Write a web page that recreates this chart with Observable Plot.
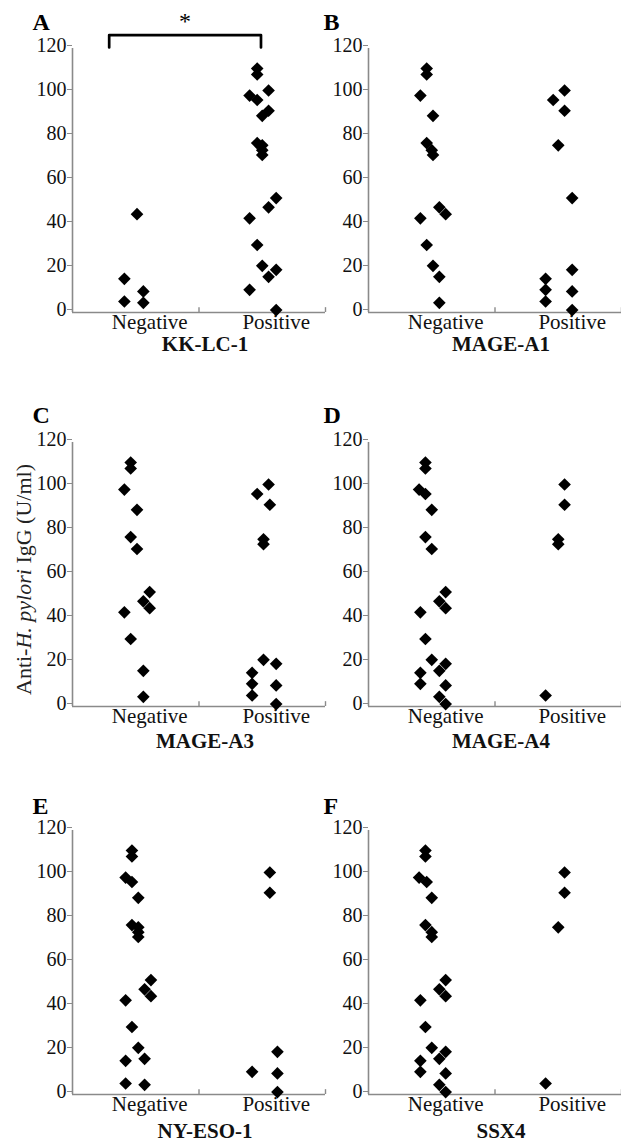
<!DOCTYPE html>
<html>
<head>
<meta charset="utf-8">
<script src="https://cdn.jsdelivr.net/npm/d3@7"></script>
<script src="https://cdn.jsdelivr.net/npm/@observablehq/plot@0.6"></script>
<style>
  html, body { margin: 0; padding: 0; background: #fff; }
  #fig { position: relative; width: 621px; height: 1141px; overflow: hidden; background: #fff;
         font-family: "Liberation Serif", "Times New Roman", serif; }
  #fig svg { position: absolute; overflow: visible; background: transparent; }
  #fig svg text { font-family: "Liberation Serif", "Times New Roman", serif; }
</style>
</head>
<body>
<div id="fig"></div>
<script>
// ---------- data ----------
const groups = ["Negative", "Positive"];
const antigens = ["KK-LC-1", "MAGE-A1", "MAGE-A3", "MAGE-A4", "NY-ESO-1", "SSX4"];
const panelLetters = ["A", "B", "C", "D", "E", "F"];
const yTicks = [0, 20, 40, 60, 80, 100, 120];
const yTitle = "Anti-H. pylori IgG (U/ml)";

// each point: [position on the group axis (Negative 0–1, Positive 1–2), anti-H. pylori IgG U/ml]
const kkLc1 = [
  [0.51,44.7],[0.41,15.3],[0.56,9.6],[0.41,5.0],[0.56,4.4],
  [1.46,110.9],[1.46,108.2],[1.55,100.9],[1.40,98.6],[1.46,96.6],[1.55,91.7],[1.50,89.4],
  [1.46,77.0],[1.50,76.0],[1.50,73.8],[1.50,71.6],[1.61,52.0],[1.55,47.8],[1.40,42.8],
  [1.46,30.7],[1.50,21.2],[1.61,19.4],[1.55,16.2],[1.40,10.3],[1.61,1.1]
];
const mageA1 = [
  [0.46,110.9],[0.46,108.2],[0.41,98.6],[0.51,89.4],[0.46,77.0],[0.50,73.8],[0.51,71.6],
  [0.56,47.8],[0.61,44.7],[0.41,42.8],[0.46,30.7],[0.51,21.2],[0.56,16.2],[0.56,4.4],
  [1.55,100.9],[1.46,96.6],[1.55,91.7],[1.50,76.0],[1.61,52.0],[1.61,19.4],[1.40,15.3],
  [1.40,10.3],[1.61,9.6],[1.40,5.0],[1.61,1.1]
];
const mageA3 = [
  [0.46,110.9],[0.46,108.2],[0.41,98.6],[0.51,89.4],[0.46,77.0],[0.51,71.6],[0.61,52.0],
  [0.56,47.8],[0.61,44.7],[0.41,42.8],[0.46,30.7],[0.56,16.2],[0.56,4.4],
  [1.55,100.9],[1.46,96.6],[1.56,91.7],[1.51,76.0],[1.51,73.8],[1.51,21.2],[1.61,19.4],
  [1.42,15.3],[1.42,10.3],[1.61,9.6],[1.42,5.0],[1.61,1.1]
];
const mageA4 = [
  [0.45,110.9],[0.45,108.2],[0.40,98.6],[0.45,96.6],[0.50,89.4],[0.45,77.0],[0.50,71.6],
  [0.61,52.0],[0.56,47.8],[0.61,44.7],[0.41,42.8],[0.45,30.7],[0.50,21.2],[0.61,19.4],
  [0.56,16.2],[0.41,15.3],[0.41,10.3],[0.61,9.6],[0.56,4.4],[0.61,1.1],
  [1.55,100.9],[1.55,91.7],[1.50,76.0],[1.50,73.8],[1.40,5.0]
];
const nyEso1 = [
  [0.47,110.9],[0.47,108.2],[0.42,98.6],[0.47,96.6],[0.52,89.4],[0.47,77.0],[0.52,76.0],
  [0.52,73.8],[0.52,71.6],[0.62,52.0],[0.57,47.8],[0.62,44.7],[0.42,42.8],[0.47,30.7],
  [0.52,21.2],[0.57,16.2],[0.42,15.3],[0.42,5.0],[0.57,4.4],
  [1.56,100.9],[1.56,91.7],[1.62,19.4],[1.42,10.3],[1.62,9.6],[1.62,1.1]
];
const ssx4 = [
  [0.45,110.9],[0.45,108.2],[0.40,98.6],[0.46,96.6],[0.50,89.4],[0.45,77.0],[0.50,73.8],
  [0.50,71.6],[0.61,52.0],[0.56,47.8],[0.61,44.7],[0.41,42.8],[0.45,30.7],[0.50,21.2],
  [0.61,19.4],[0.56,16.2],[0.41,15.3],[0.41,10.3],[0.61,9.6],[0.56,4.4],[0.61,1.1],
  [1.55,100.9],[1.55,91.7],[1.50,76.0],[1.40,5.0]
];
const panelData = [kkLc1, mageA1, mageA3, mageA4, nyEso1, ssx4];

// significance bracket in panel A (group-axis position, IgG value)
const sigBracket = [[0.29,120.5],[0.29,126.1],[1.49,126.1],[1.49,120.5]];
const sigLabel = "*";

// ---------- layout ----------
const fig = document.getElementById("fig");
const serif = "'Liberation Serif', 'Times New Roman', serif";
const axisGray = "#8a8a8a";
const ink = "#111";
const colAxisX = [72, 367.5];
const rowFrameTop = [47.7, 441.6, 829.8];
const rowTitleDy = [38.5, 41, 43];
const rowLetterDy = [-19, -20, -17];
const colLetterDx = [-40, -45];
const mL = 72, mR = 5, mT = 50, mB = 60, plotW = 253, plotH = 264;

antigens.forEach((name, i) => {
  const col = i % 2, row = Math.floor(i / 2);
  const marks = [
    Plot.ruleY([0], {stroke: axisGray, strokeWidth: 1.6}),
    Plot.ruleX([0], {stroke: axisGray, strokeWidth: 1.6}),
    Plot.ruleX([1, 2], {y1: 0, y2: 2.2, stroke: axisGray, strokeWidth: 1.4}),
    Plot.axisY({ticks: yTicks, tickSize: 5, tickPadding: 1, fontSize: 20, fontFamily: serif,
                stroke: axisGray, fill: ink, dy: -3}),
    Plot.axisX({ticks: groups.map((g, k) => k + 0.5), tickFormat: d => groups[Math.floor(d)],
                tickSize: 0, tickPadding: 2, fontSize: 21, fontFamily: serif, fill: ink, dx: 14}),
    Plot.dot(panelData[i], {x: d => d[0], y: d => d[1], symbol: "diamond2", r: 5.7,
                            fill: "#000", stroke: "none"}),
    Plot.text([name], {frameAnchor: "bottom", lineAnchor: "bottom", dy: rowTitleDy[row], dx: 6,
                       fontSize: 21, fontWeight: "bold", fontFamily: serif, fill: ink}),
    Plot.text([panelLetters[i]], {frameAnchor: "top-left", textAnchor: "start", lineAnchor: "bottom",
                                  dx: colLetterDx[col], dy: rowLetterDy[row], fontFamily: serif,
                                  fontSize: 24, fontWeight: "bold", fill: "#000"})
  ];
  if (i === 0) {
    marks.push(Plot.line(sigBracket, {x: d => d[0], y: d => d[1], stroke: "#000", strokeWidth: 2.7}));
    marks.push(Plot.text([sigLabel], {x: (sigBracket[0][0] + sigBracket[3][0]) / 2, y: sigBracket[1][1],
                                      text: d => d, dy: -14, fontSize: 24, fontFamily: serif, fill: "#000"}));
  }
  if (i === 2) {
    marks.push(Plot.text([yTitle], {frameAnchor: "left", rotate: -90, dx: -49, dy: 5,
                                    fontSize: 22, fontFamily: serif, fill: "#222", textAnchor: "middle"}));
  }
  const svg = Plot.plot({
    width: mL + plotW + mR, height: mT + plotH + mB,
    marginLeft: mL, marginRight: mR, marginTop: mT, marginBottom: mB,
    x: {domain: [0, 2], axis: null},
    y: {domain: [0, 120], axis: null},
    style: {fontFamily: serif, background: "transparent", overflow: "visible"},
    marks
  });
  svg.style.left = (colAxisX[col] - mL) + "px";
  svg.style.top = (rowFrameTop[row] - mT) + "px";
  fig.appendChild(svg);

  if (i === 2) {
    // italicise the organism name inside the axis title
    svg.querySelectorAll("text").forEach(t => {
      if (t.textContent === yTitle) {
        const [pre, rest] = yTitle.split("H. pylori");
        t.textContent = "";
        const ns = "http://www.w3.org/2000/svg";
        const a = document.createElementNS(ns, "tspan"); a.textContent = pre;
        const b = document.createElementNS(ns, "tspan"); b.textContent = "H. pylori";
        b.setAttribute("font-style", "italic");
        const c = document.createElementNS(ns, "tspan"); c.textContent = rest;
        t.append(a, b, c);
      }
    });
  }
});
</script>
</body>
</html>
